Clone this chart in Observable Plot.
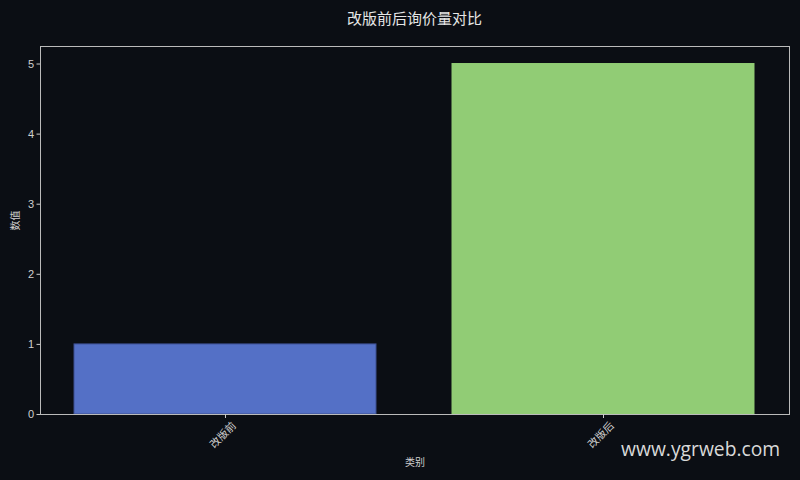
<!DOCTYPE html>
<html><head><meta charset="utf-8">
<script src="https://cdn.jsdelivr.net/npm/d3@7"></script>
<script src="https://cdn.jsdelivr.net/npm/@observablehq/plot@0.6"></script>
<style>
html,body{margin:0;padding:0;background:#0b0e14;}
#wrap{position:relative;width:800px;height:480px;background:#0b0e14;overflow:hidden;}
#title{position:absolute;left:0;width:829px;top:7px;text-align:center;color:#e6e6e6;font:15px "Noto Sans CJK SC",sans-serif;}
#wm{position:absolute;left:621px;top:435px;color:#d9d9d9;font:19.3px "Open Sans","DejaVu Sans",sans-serif;}
</style></head>
<body><div id="wrap"><div id="title"></div><div id="chart"></div><div id="wm">www.ygrweb.com</div></div>
<script>
const titleText = "改版前后询价量对比";
const categories = ["改版前", "改版后"];
const values = [1, 5];
const colors = ["#5470c6", "#91cc75"];
const yTicks = [0, 1, 2, 3, 4, 5];
const xLabel = "类别";
const yLabel = "数值";

document.getElementById("title").textContent = titleText;
const data = categories.map((c, i) => ({cat: c, val: values[i], color: colors[i]}));

const chart = Plot.plot({
  width: 800, height: 480,
  marginTop: 46, marginBottom: 66, marginLeft: 40, marginRight: 11,
  style: {background: "#0b0e14", color: "#d0d0d0", fontFamily: "'Noto Sans CJK SC', sans-serif", fontSize: "11px"},
  x: {domain: categories, paddingInner: 0.2, paddingOuter: 0.09, label: null},
  y: {domain: [0, 5.25], label: null},
  marks: [
    Plot.barY(data, {x: "cat", y: "val", fill: "color", stroke: d => d.cat === categories[0] ? "#3d4f8f" : "#91cc75", strokeWidth: 1}),
    Plot.frame({stroke: "#bbbbbb", strokeWidth: 1}),
    Plot.axisY({ticks: yTicks, tickFormat: "d", tickSize: 3.5, tickPadding: 3, label: null, stroke: "#cccccc", fill: "#d0d0d0", fontFamily: "'Liberation Sans', Arial, sans-serif"}),
    Plot.axisX({tickSize: 4, text: null, label: null, stroke: "#cccccc"}),
    Plot.text(categories, {x: d => d, frameAnchor: "bottom", rotate: -45, dy: 23, textAnchor: "middle", fill: "#d0d0d0", fontSize: 10.5}),
    Plot.text([yLabel], {frameAnchor: "left", dx: -25, rotate: -90, fill: "#d0d0d0", fontSize: 10}),
    Plot.text([xLabel], {frameAnchor: "bottom", dy: 51, fill: "#d0d0d0", fontSize: 10})
  ]
});
document.getElementById("chart").appendChild(chart);
</script>
</body></html>
